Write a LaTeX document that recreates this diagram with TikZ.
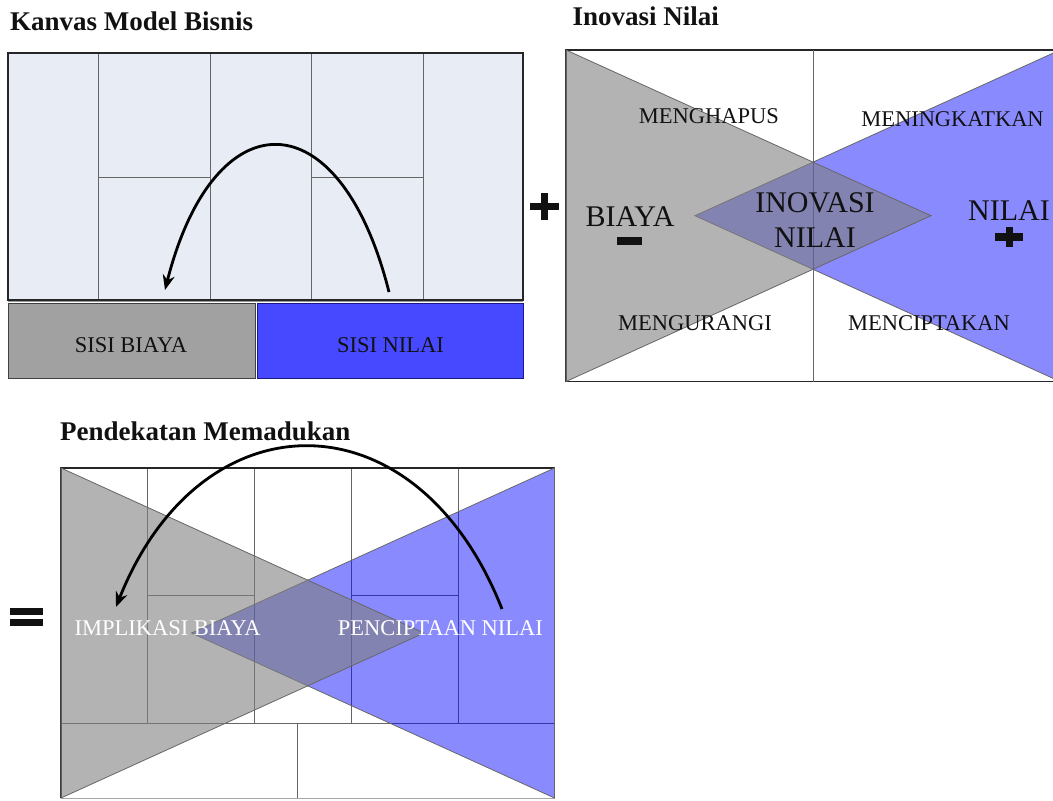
\documentclass[tikz,border=0pt]{standalone}
\usepackage{fontspec}
\setmainfont{Liberation Serif}
\usetikzlibrary{arrows.meta}
\definecolor{canvasfill}{HTML}{E8ECF5}
\definecolor{gridline}{HTML}{666666}
\definecolor{costbox}{HTML}{A0A1A0}
\definecolor{valuebox}{HTML}{4649FF}
\definecolor{valueedge}{HTML}{1A1A80}
\definecolor{ink}{HTML}{111111}
\tikzset{
  title/.style={anchor=base west, inner sep=0pt, font=\fontsize{27}{30}\selectfont\bfseries, text=ink},
  lbl/.style={inner sep=0pt, font=\fontsize{22.5}{26}\selectfont, text=ink},
  biglbl/.style={inner sep=0pt, font=\fontsize{30}{35.5}\selectfont, text=ink, align=center},
  whitelbl/.style={inner sep=0pt, font=\fontsize{22.5}{26}\selectfont, text=white},
  grid/.style={draw=gridline, line width=1pt},
  frame/.style={draw=black!85, line width=1.1pt},
  tri/.style={draw=black!60, line width=0.8pt},
  bluetri/.style={tri, fill=blue, fill opacity=0.46},
  graytri/.style={tri, fill={rgb,255:red,128;green,128;blue,128}, fill opacity=0.6},
  bigarrow/.style={line width=2.8pt, -{Stealth[length=15pt,width=12pt]}},
  symbol/.style={fill=ink, draw=none}
}
\begin{document}
\begin{tikzpicture}[x=1pt,y=-1pt]
\useasboundingbox (0,0) rectangle (1053,801);
\clip (0,0) rectangle (1053,801);

% ---------- Titles ----------
\node[title] (t1) at (10,30) {Kanvas Model Bisnis};
\node[title] (t2) at (572.5,25) {Inovasi Nilai};
\node[title] (t3) at (60,440) {Pendekatan Memadukan};

% ---------- Kanvas Model Bisnis ----------
\fill[canvasfill] (8,53) rectangle (523,300);
\draw[grid] (98,53) -- (98,300) (210,53) -- (210,300) (311,53) -- (311,300) (423,53) -- (423,300);
\draw[grid] (98,177) -- (210,177) (311,177) -- (423,177);
\draw[frame] (8,53) rectangle (523,300);
\draw[draw=black!40, line width=1pt] (8,301.5) -- (523,301.5);
\node[lbl, draw=black!75, line width=1.1pt, fill=costbox, minimum width=247pt, minimum height=75pt, anchor=north west] (biaya) at (8,303) {};
\node[lbl, draw=valueedge, line width=1.1pt, fill=valuebox, minimum width=266pt, minimum height=75pt, anchor=north west] (nilai) at (257,303) {};
\node[lbl] (sisib) at (131,345) {SISI BIAYA};
\node[lbl] (sisin) at (390.5,345) {SISI NILAI};
\coordinate (a1s) at (389,292);
\coordinate (a1e) at (165,290);
\draw[bigarrow] (a1s) .. controls (340,97) and (214,97) .. (a1e);

% ---------- plus between ----------
\fill[symbol] (530.2,202.5) rectangle (559.1,210.1);
\fill[symbol] (541,192.7) rectangle (548.4,220);

% ---------- Inovasi Nilai ----------
\draw[frame] (566,50) rectangle (1060,381.5);
\draw[grid] (813,50) -- (813,381.5);
\draw[bluetri] (1060,50) -- (1060,381.5) -- (695,215.7) -- cycle;
\draw[graytri] (566,50) -- (566,381.5) -- (931,215.7) -- cycle;
\node[lbl] (hapus) at (709,116) {MENGHAPUS};
\node[lbl] (tingkat) at (952.5,119) {MENINGKATKAN};
\node[lbl] (kurang) at (695,323) {MENGURANGI};
\node[lbl] (cipta) at (929,323) {MENCIPTAKAN};
\node[biglbl] (biayabig) at (630,217) {BIAYA};
\node[biglbl] (nilaibig) at (1009,211) {NILAI};
\node[biglbl] (inov) at (815,220) {INOVASI\\NILAI};
\fill[symbol] (617,237.3) rectangle (641.8,245);
\fill[symbol] (995,233.3) rectangle (1023.3,240.7);
\fill[symbol] (1005.7,226.7) rectangle (1012.7,247.3);

% ---------- equals ----------
\fill[symbol] (10,608.3) rectangle (43,615);
\fill[symbol] (10,619.3) rectangle (43,626);

% ---------- Pendekatan Memadukan ----------
\draw[grid] (147,468) -- (147,723.3) (254,468) -- (254,723.3) (351,468) -- (351,723.3) (458,468) -- (458,723.3);
\draw[grid] (147,595.7) -- (254,595.7) (351,595.7) -- (458,595.7);
\draw[grid] (61,723.3) -- (554.5,723.3);
\draw[grid] (297,723.3) -- (297,798);
\draw[frame] (61,798) -- (61,468) -- (554.5,468) -- (554.5,798);
\draw[draw=black!35, line width=0.8pt] (61,798) -- (554.5,798);
\draw[bluetri] (554.5,468) -- (554.5,798) -- (191.5,633) -- cycle;
\draw[graytri] (61,468) -- (61,798) -- (424,633) -- cycle;
\node[whitelbl] (impl) at (167.6,628.3) {IMPLIKASI BIAYA};
\node[whitelbl] (pencip) at (440.4,628.3) {PENCIPTAAN NILAI};
\coordinate (a2s) at (502,609);
\coordinate (a2e) at (116,607);
\draw[bigarrow] (a2s) .. controls (417,393) and (201,393) .. (a2e);
\end{tikzpicture}
\end{document}
